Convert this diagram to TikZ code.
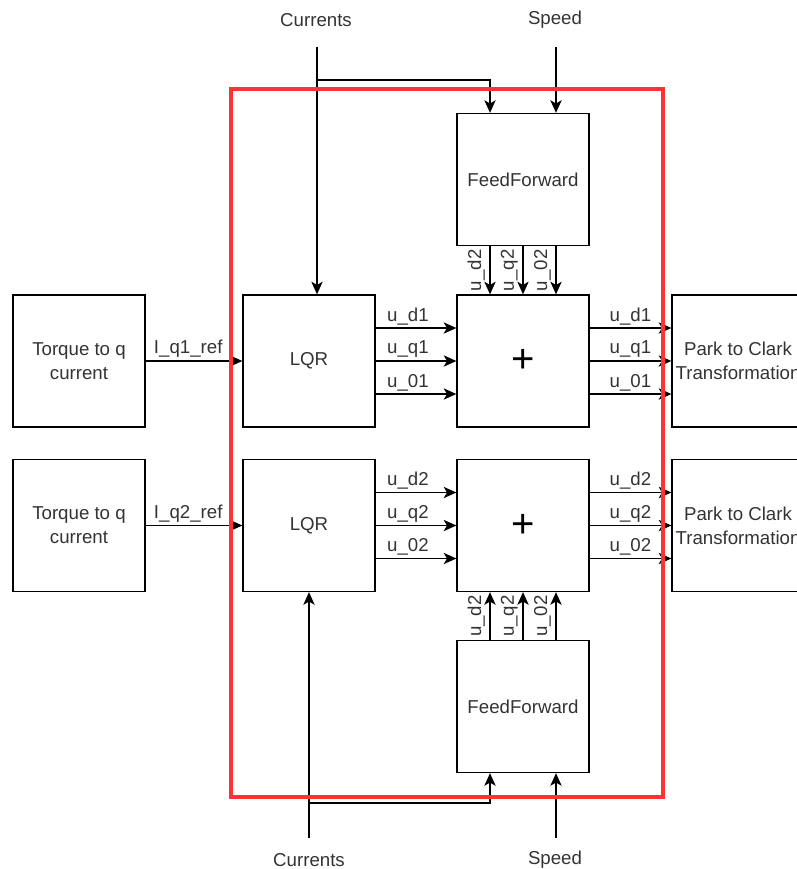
\documentclass[tikz,border=0pt]{standalone}
\usepackage{fontspec}
\setmainfont{Liberation Sans}
\usetikzlibrary{arrows.meta,calc}
\definecolor{framered}{RGB}{255,51,51}

\begin{document}
\begin{tikzpicture}[x=0.75pt,y=-0.75pt,
    blk/.style={draw, line width=1pt, minimum width=99pt, minimum height=99pt,
      inner sep=0pt, align=center, text=black!80, font=\fontsize{14}{18}\selectfont},
    sumblk/.style={blk, text=black, font=\fontsize{30}{30}\selectfont},
    sig/.style={-{Stealth[length=9.5pt,width=8.5pt,inset=2.5pt]}, line width=0.9pt},
    lbl/.style={text=black!80, inner sep=2pt, font=\fontsize{14}{17}\selectfont}]
  \useasboundingbox (0,0) rectangle (797,869);
  % two channels: upper one on y=361, lower one on y=525.5 (pixel units, y downwards)
  \node[blk] (tq1) at (79,361) {Torque to q\\current};
  \node[blk] (tq2) at (79,525.5) {Torque to q\\current};
  \node[blk] (lqr1) at (309,361) {LQR};
  \node[blk] (lqr2) at (309,525.5) {LQR};
  \node[sumblk] (sum1) at (523,361) {+};
  \node[sumblk] (sum2) at (523,525.5) {+};
  \node[blk] (ff1) at (523,179.5) {FeedForward};
  \node[blk] (ff2) at (523,706.5) {FeedForward};
  \node[blk] (pc1) at (738,361) {Park to Clark\\Transformation};
  \node[blk] (pc2) at (738,525.5) {Park to Clark\\Transformation};

  \draw[sig] (tq1) -- node[lbl, above, pos=0.44] {I\_q1\_ref} (lqr1);
  \draw[sig] (tq2) -- node[lbl, above, pos=0.44] {I\_q2\_ref} (lqr2);
  \foreach \k/\d in {d/-33, q/0, 0/33} {
    \draw[sig] ($(lqr1.east)+(0,\d)$) -- node[lbl, above, pos=0.4] {u\_\k1} ($(sum1.west)+(0,\d)$);
    \draw[sig] ($(lqr2.east)+(0,\d)$) -- node[lbl, above, pos=0.4] {u\_\k2} ($(sum2.west)+(0,\d)$);
    \draw[sig] ($(sum1.east)+(0,\d)$) -- node[lbl, above] {u\_\k1} ($(pc1.west)+(0,\d)$);
    \draw[sig] ($(sum2.east)+(0,\d)$) -- node[lbl, above] {u\_\k2} ($(pc2.west)+(0,\d)$);
    \draw[sig] ($(ff1.south)+(\d,0)$) -- node[lbl, midway, rotate=90, anchor=south, inner sep=3.5pt] {u\_\k2} ($(sum1.north)+(\d,0)$);
    \draw[sig] ($(ff2.north)+(\d,0)$) -- node[lbl, midway, rotate=90, anchor=south, inner sep=3.5pt] {u\_\k2} ($(sum2.south)+(\d,0)$);
  }

  % inputs from the top
  \node[lbl] (curT) at (316,20) {Currents};
  \node[lbl] (spdT) at (555,20) {Speed};
  \coordinate (curTin) at (317,47);
  \coordinate (curTj) at (317,80);
  \coordinate (spdTin) at (556,47);
  \draw[sig] (curTin) -- (curTin |- lqr1.north);
  \draw[sig] (curTj) -| ($(ff1.north)+(-33,0)$);
  \draw[sig] (spdTin) -- ($(ff1.north)+(33,0)$);

  % inputs from the bottom
  \node[lbl] (curB) at (309,860) {Currents};
  \node[lbl] (spdB) at (555,860) {Speed};
  \coordinate (curBin) at (309,838);
  \coordinate (curBj) at (309,803);
  \coordinate (spdBin) at (556,838);
  \draw[sig] (curBin) -- (lqr2.south);
  \draw[sig] (curBj) -| ($(ff2.south)+(-33,0)$);
  \draw[sig] (spdBin) -- ($(ff2.south)+(33,0)$);

  \draw[framered, line width=3.2pt] (231,89) rectangle (663,797);
\end{tikzpicture}
\end{document}
